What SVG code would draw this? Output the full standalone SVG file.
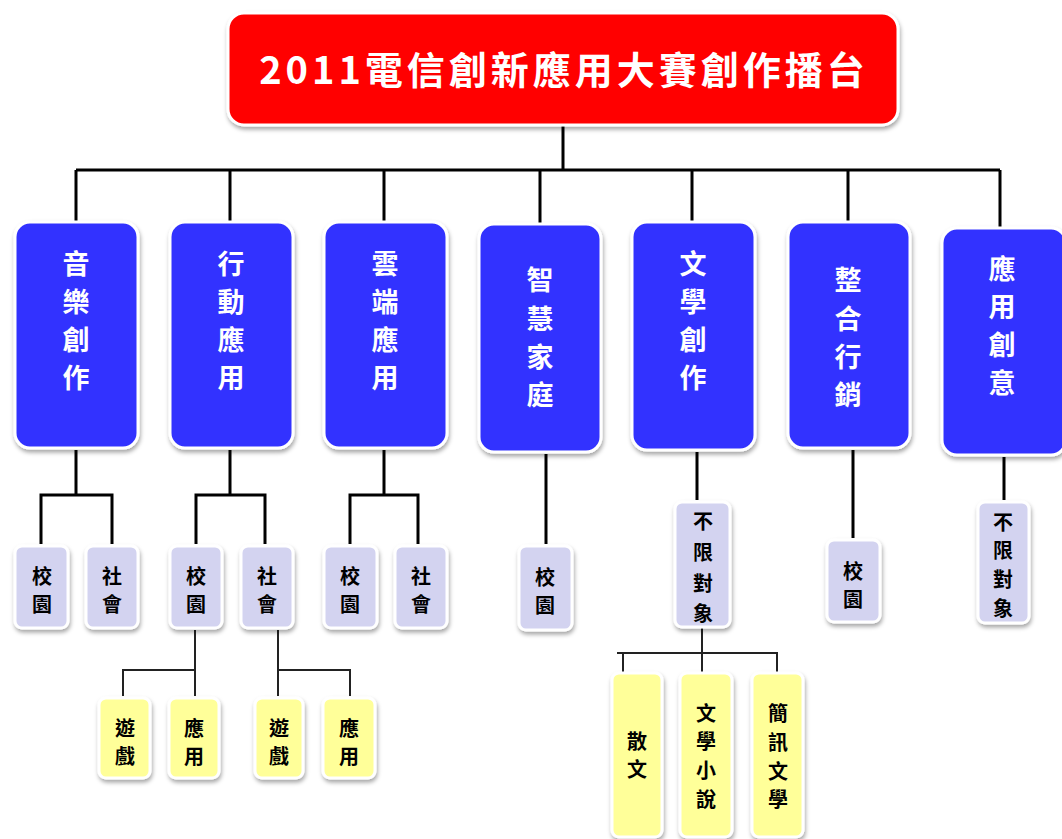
<svg xmlns="http://www.w3.org/2000/svg" width="1062" height="839" viewBox="0 0 1062 839">
<defs>
<filter id="sh" x="-20%" y="-20%" width="140%" height="140%">
<feDropShadow dx="1" dy="3" stdDeviation="2" flood-color="#000" flood-opacity="0.35"/>
</filter>
<style>
.red{fill:#FF0000;stroke:#fff;stroke-width:3;filter:url(#sh)}
.blue{fill:#3333FF;stroke:#fff;stroke-width:3;filter:url(#sh)}
.lav{fill:#D3D3F0;stroke:#fff;stroke-width:3;filter:url(#sh)}
.yel{fill:#FFFF99;stroke:#fff;stroke-width:3;filter:url(#sh)}
text{font-family:"Noto Sans CJK TC","Noto Sans CJK SC",sans-serif;font-weight:bold;text-anchor:middle;dominant-baseline:central}
.tt{fill:#fff;font-size:38px;letter-spacing:4px;dominant-baseline:auto}
.bt{fill:#fff;font-size:27px}
.st{fill:#000;font-size:20px}
.thick{stroke:#000;stroke-width:3;fill:none}
.thin{stroke:#222;stroke-width:2;fill:none}
</style>
</defs>
<rect width="1062" height="839" fill="#fff"/>
<g id="connectors">
<path class="thick" d="M563,125V170M76,170H1000M76,170V222M230,170V222M384,170V222M540,170V224M692,170V222M848,170V222M1000,170V228"/>
<path class="thick" d="M76,450V495M41,544V495H112V544M230,450V495M196,544V495H265V544M384,450V495M350,544V495H418V544M546,454V544M697,452V500M853,450V538M1004,457V500"/>
<path class="thin" d="M195,630V696M123,696V670H195M278,630V696M278,670H350V696M702,628V682M617,653H778M623,653V678M777,653V678"/>
</g>
<g id="title">
<rect class="red" x="228" y="13" width="670" height="112" rx="16"/>
<text class="tt" x="564" y="84">2011電信創新應用大賽創作播台</text>
</g>
<g id="n1"><rect class="blue" x="15" y="222" width="123" height="226" rx="15"/>
<text class="bt" x="76" y="262">音</text><text class="bt" x="76" y="300">樂</text><text class="bt" x="76" y="338">創</text><text class="bt" x="76" y="376">作</text></g>
<g id="n2"><rect class="blue" x="170" y="222" width="123" height="226" rx="15"/>
<text class="bt" x="231" y="262">行</text><text class="bt" x="231" y="300">動</text><text class="bt" x="231" y="338">應</text><text class="bt" x="231" y="376">用</text></g>
<g id="n3"><rect class="blue" x="324" y="222" width="123" height="226" rx="15"/>
<text class="bt" x="385" y="262">雲</text><text class="bt" x="385" y="300">端</text><text class="bt" x="385" y="338">應</text><text class="bt" x="385" y="376">用</text></g>
<g id="n4"><rect class="blue" x="479" y="224" width="122" height="228" rx="15"/>
<text class="bt" x="540" y="278">智</text><text class="bt" x="540" y="317">慧</text><text class="bt" x="540" y="355">家</text><text class="bt" x="540" y="393">庭</text></g>
<g id="n5"><rect class="blue" x="632" y="222" width="123" height="228" rx="15"/>
<text class="bt" x="693" y="262">文</text><text class="bt" x="693" y="300">學</text><text class="bt" x="693" y="338">創</text><text class="bt" x="693" y="376">作</text></g>
<g id="n6"><rect class="blue" x="788" y="222" width="122" height="226" rx="15"/>
<text class="bt" x="848" y="278">整</text><text class="bt" x="848" y="317">合</text><text class="bt" x="848" y="355">行</text><text class="bt" x="848" y="393">銷</text></g>
<g id="n7"><rect class="blue" x="942" y="228" width="124" height="227" rx="15"/>
<text class="bt" x="1002" y="267">應</text><text class="bt" x="1002" y="305">用</text><text class="bt" x="1002" y="343">創</text><text class="bt" x="1002" y="381">意</text></g>
<g id="s1"><rect class="lav" x="15" y="546" width="53" height="82" rx="7"/><text class="st" x="42" y="575">校</text><text class="st" x="42" y="603">園</text></g>
<g id="s2"><rect class="lav" x="86" y="546" width="52" height="82" rx="7"/><text class="st" x="112" y="575">社</text><text class="st" x="112" y="603">會</text></g>
<g id="s3"><rect class="lav" x="170" y="546" width="52" height="82" rx="7"/><text class="st" x="196" y="575">校</text><text class="st" x="196" y="603">園</text></g>
<g id="s4"><rect class="lav" x="241" y="546" width="52" height="82" rx="7"/><text class="st" x="267" y="575">社</text><text class="st" x="267" y="603">會</text></g>
<g id="s5"><rect class="lav" x="324" y="546" width="53" height="82" rx="7"/><text class="st" x="350" y="575">校</text><text class="st" x="350" y="603">園</text></g>
<g id="s6"><rect class="lav" x="395" y="546" width="52" height="82" rx="7"/><text class="st" x="421" y="575">社</text><text class="st" x="421" y="603">會</text></g>
<g id="s7"><rect class="lav" x="519" y="546" width="53" height="84" rx="7"/><text class="st" x="545" y="576">校</text><text class="st" x="545" y="604">園</text></g>
<g id="s8"><rect class="lav" x="675" y="502" width="55" height="125" rx="7"/><text class="st" x="703" y="520">不</text><text class="st" x="703" y="551">限</text><text class="st" x="703" y="582">對</text><text class="st" x="703" y="612">象</text></g>
<g id="s9"><rect class="lav" x="827" y="540" width="53" height="82" rx="7"/><text class="st" x="853" y="570">校</text><text class="st" x="853" y="598">園</text></g>
<g id="s10"><rect class="lav" x="978" y="502" width="51" height="121" rx="7"/><text class="st" x="1003" y="521">不</text><text class="st" x="1003" y="549">限</text><text class="st" x="1003" y="578">對</text><text class="st" x="1003" y="607">象</text></g>
<g id="y1"><rect class="yel" x="99" y="698" width="51" height="80" rx="7"/><text class="st" x="125" y="727">遊</text><text class="st" x="125" y="755">戲</text></g>
<g id="y2"><rect class="yel" x="169" y="698" width="50" height="80" rx="7"/><text class="st" x="194" y="727">應</text><text class="st" x="194" y="755">用</text></g>
<g id="y3"><rect class="yel" x="255" y="698" width="48" height="80" rx="7"/><text class="st" x="279" y="727">遊</text><text class="st" x="279" y="755">戲</text></g>
<g id="y4"><rect class="yel" x="323" y="698" width="52" height="80" rx="7"/><text class="st" x="349" y="727">應</text><text class="st" x="349" y="755">用</text></g>
<g id="y5"><rect class="yel" x="612" y="673" width="50" height="164" rx="7"/><text class="st" x="637" y="740">散</text><text class="st" x="637" y="768">文</text></g>
<g id="y6"><rect class="yel" x="680" y="673" width="52" height="164" rx="7"/><text class="st" x="706" y="712">文</text><text class="st" x="706" y="740">學</text><text class="st" x="706" y="769">小</text><text class="st" x="706" y="798">說</text></g>
<g id="y7"><rect class="yel" x="752" y="673" width="51" height="164" rx="7"/><text class="st" x="778" y="712">簡</text><text class="st" x="778" y="741">訊</text><text class="st" x="778" y="770">文</text><text class="st" x="778" y="798">學</text></g>
</svg>
